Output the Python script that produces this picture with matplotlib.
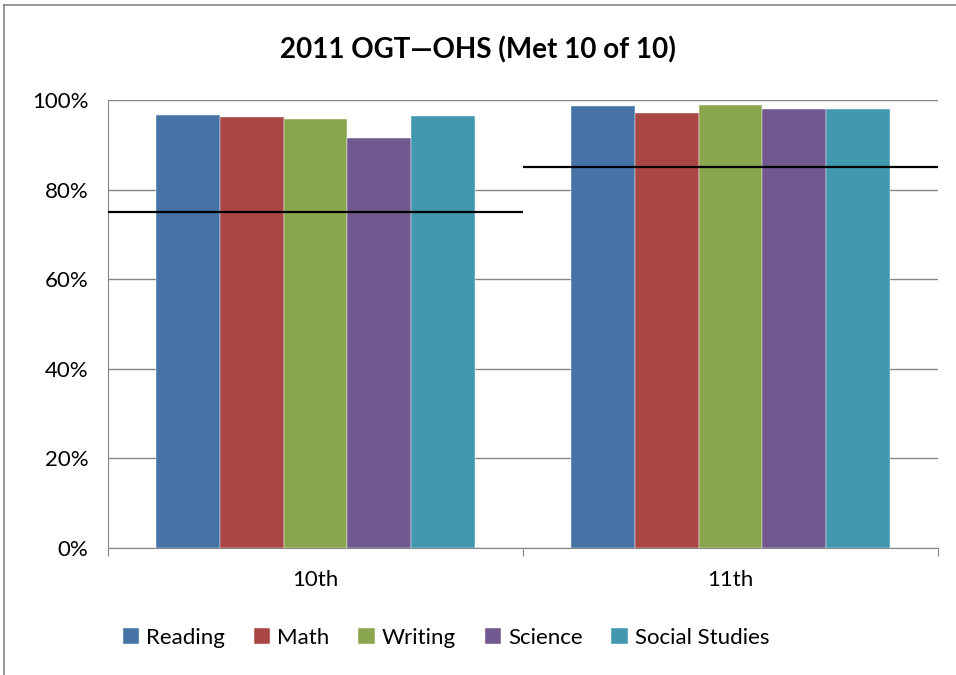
import matplotlib
matplotlib.use("Agg")
import matplotlib.pyplot as plt
import matplotlib.ticker as ticker
import numpy as np

# grades on the x axis and subjects in the legend
grades = ["10th", "11th"]
subjects = ["Reading", "Math", "Writing", "Science", "Social Studies"]
colors = ["#4572A7", "#AA4643", "#89A54E", "#71588F", "#4198AF"]

# percent passing
reading = [96.7, 98.7]
math = [96.2, 97.1]
writing = [95.8, 98.9]
science = [91.5, 98.0]
social = [96.4, 98.0]

# state target line per grade
targets = [75, 85]

plt.rcParams['font.family'] = ['Lato', 'DejaVu Sans']

fig = plt.figure(figsize=(9.56, 6.75), dpi=100)
ax = fig.add_axes([108/956, 1-548/675, (938-108)/956, (548-100)/675])

x = np.arange(len(grades))
bw = 0.154
series = [reading, math, writing, science, social]
for i, (vals, name, c) in enumerate(zip(series, subjects, colors)):
	ax.bar(x + (i - 2) * bw, vals, bw, color=c, label=name, zorder=3,
		   edgecolor="white", linewidth=0.3)

# target lines span their own category
for i, t in enumerate(targets):
	ax.hlines(t, i - 0.5, i + 0.5, color="black", linewidth=1.6, zorder=4)

ax.set_xlim(-0.5, 1.5)
ax.set_ylim(0, 100)
ax.yaxis.set_major_locator(ticker.MultipleLocator(20))
ax.yaxis.set_major_formatter(ticker.FuncFormatter(lambda v, p: f"{int(v)}%"))
ax.grid(axis="y", color="#868686", linewidth=1, zorder=0)
ax.tick_params(axis="y", length=0, labelsize=16, pad=14)

ax.set_xticks([-0.5, 0.5, 1.5])
ax.set_xticklabels([])
ax.set_xticks(x, minor=True)
ax.set_xticklabels(grades, minor=True, fontsize=16)
ax.tick_params(axis="x", which="major", length=6, color="#868686")
ax.tick_params(axis="x", which="minor", length=0, pad=16)

for s in ["top", "right"]:
	ax.spines[s].set_visible(False)
for s in ["left", "bottom"]:
	ax.spines[s].set_color("#868686")

fig.text(0.5, 1-50/675, "2011 OGT\u2014OHS (Met 10 of 10)", ha="center", va="center",
		 fontsize=20, fontweight="bold")

ax.legend(loc="center", bbox_to_anchor=(446/956, 1-638/675), bbox_transform=fig.transFigure,
		  ncol=5, frameon=False, fontsize=16, handlelength=0.75, handleheight=0.75,
		  handletextpad=0.3, columnspacing=1.3)

# chart border (left and top visible in the reference)
fig.add_artist(plt.Line2D([4/956, 4/956], [0, 1-5/675], color="#868686", linewidth=1.2))
fig.add_artist(plt.Line2D([4/956, 1], [1-5/675, 1-5/675], color="#868686", linewidth=1.2))

plt.savefig("out.png", dpi=100)
